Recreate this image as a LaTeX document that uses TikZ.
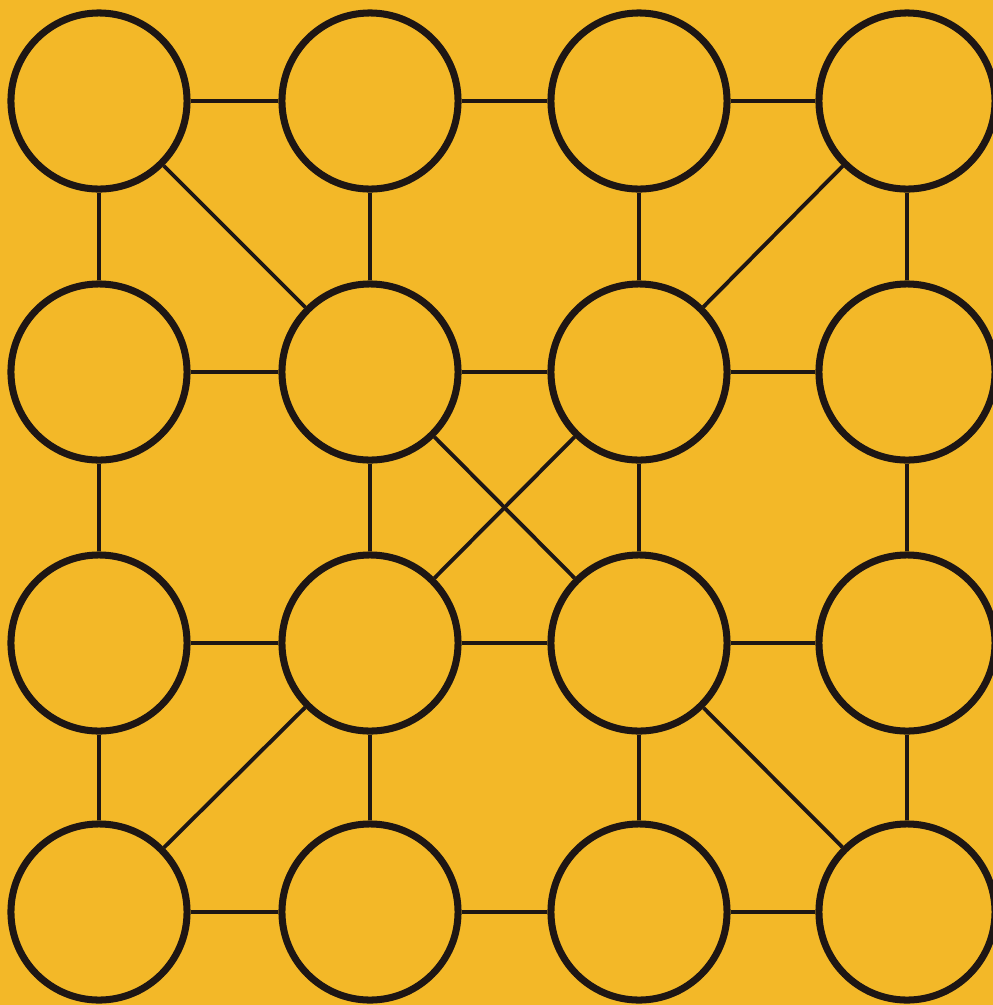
\documentclass[tikz,border=0pt]{standalone}
\usepackage{tikz}
\usetikzlibrary{positioning}
\definecolor{sheet}{RGB}{243,184,40}
\definecolor{ink}{RGB}{30,22,20}

\begin{document}
\begin{tikzpicture}[x=0.01cm,y=-0.01cm,
		spot/.style={circle,draw=ink,line width=2pt,minimum size=1.76cm,inner sep=0pt},
		link/.style={draw=ink,line width=1.1pt}]
		
		% --- yellow sheet ---
		\useasboundingbox (0,0) rectangle (993,1005);
		\clip (0,0) rectangle (993,1005);
		\fill[sheet] (0,0) rectangle (993,1005);
		
		% ======================================================
		% circles, row by row
		% ======================================================
		\node[spot] (c11) at (99,101) {};
		\node[spot] (c12) at (370,101) {};
		\node[spot] (c13) at (639,101) {};
		\node[spot] (c14) at (907,101) {};
		
		\node[spot] (c21) at (99,372) {};
		\node[spot] (c22) at (370,372) {};
		\node[spot] (c23) at (639,372) {};
		\node[spot] (c24) at (907,372) {};
		
		\node[spot] (c31) at (99,643) {};
		\node[spot] (c32) at (370,643) {};
		\node[spot] (c33) at (639,643) {};
		\node[spot] (c34) at (907,643) {};
		
		\node[spot] (c41) at (99,912) {};
		\node[spot] (c42) at (370,912) {};
		\node[spot] (c43) at (639,912) {};
		\node[spot] (c44) at (907,912) {};
		
		% ======================================================
		% horizontal links
		% ======================================================
		\draw[link] (c11) -- (c12) -- (c13) -- (c14);
		\draw[link] (c21) -- (c22) -- (c23) -- (c24);
		\draw[link] (c31) -- (c32) -- (c33) -- (c34);
		\draw[link] (c41) -- (c42) -- (c43) -- (c44);
		
		% ======================================================
		% vertical links
		% ======================================================
		\draw[link] (c11) -- (c21) -- (c31) -- (c41);
		\draw[link] (c12) -- (c22) -- (c32) -- (c42);
		\draw[link] (c13) -- (c23) -- (c33) -- (c43);
		\draw[link] (c14) -- (c24) -- (c34) -- (c44);
		
		% ======================================================
		% diagonal links
		% ======================================================
		\draw[link] (c11) -- (c22);
		\draw[link] (c14) -- (c23);
		\draw[link] (c22) -- (c33);   % centre cross
		\draw[link] (c23) -- (c32);
		\draw[link] (c32) -- (c41);
		\draw[link] (c33) -- (c44);
		
	\end{tikzpicture}
\end{document}
